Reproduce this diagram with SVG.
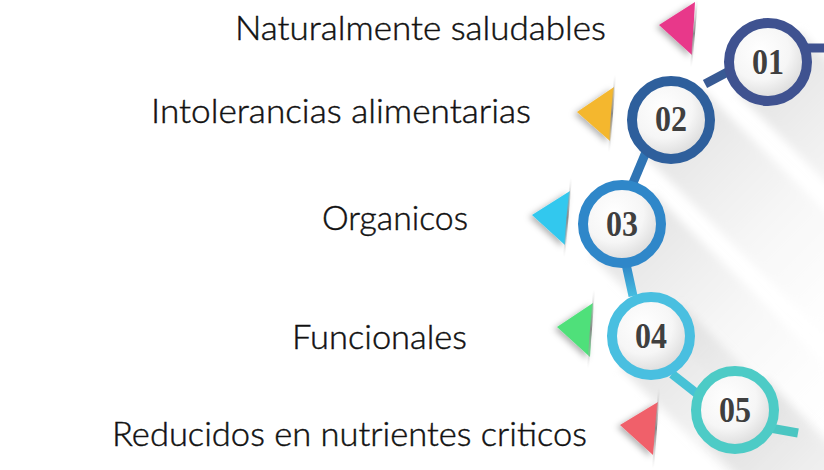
<svg xmlns="http://www.w3.org/2000/svg" width="824" height="470" viewBox="0 0 824 470">
<defs>
  <radialGradient id="inner" cx="0.4" cy="0.36" r="0.68">
    <stop offset="0" stop-color="#ffffff"/>
    <stop offset="0.55" stop-color="#f6f6f6"/>
    <stop offset="1" stop-color="#d6d6d6"/>
  </radialGradient>
  <linearGradient id="shadow" x1="0" y1="0" x2="1" y2="1">
    <stop offset="0" stop-color="#d4d4d4" stop-opacity="0.85"/>
    <stop offset="1" stop-color="#ffffff" stop-opacity="0"/>
  </linearGradient>
  <linearGradient id="fold" x1="0" y1="0" x2="0" y2="1">
    <stop offset="0" stop-color="#bbbbbb" stop-opacity="0"/>
    <stop offset="0.5" stop-color="#888888"/>
    <stop offset="1" stop-color="#bbbbbb" stop-opacity="0"/>
  </linearGradient>
  <linearGradient id="g34" x1="0" y1="0" x2="0" y2="1">
    <stop offset="0" stop-color="#2f85c6"/>
    <stop offset="1" stop-color="#47bde0"/>
  </linearGradient>
  <filter id="tshadow" x="-50%" y="-50%" width="200%" height="200%">
    <feDropShadow dx="-3" dy="2" stdDeviation="3" flood-color="#000" flood-opacity="0.3"/>
  </filter>
  <filter id="blur" x="-20%" y="-20%" width="140%" height="140%">
    <feGaussianBlur stdDeviation="4"/>
  </filter>
</defs>
<style>
  .lbl { font-family: "Lato", "Open Sans", "Liberation Sans", sans-serif; font-weight: 300; font-size: 33px; fill: #111111; stroke: #111111; stroke-width: 0.45; text-anchor: end; }
  .num { font-family: "Liberation Serif", "Times New Roman", serif; font-weight: bold; font-size: 36px; fill: #3f3f3f; text-anchor: middle; }
  .ring { stroke-width: 10; fill: url(#inner); }
  .con { fill: none; stroke-width: 9; stroke-linecap: butt; }
  .fold { stroke: url(#fold); stroke-width: 2; fill: none; }
  .tri { filter: url(#tshadow); }
  .sh { fill: url(#shadow); filter: url(#blur); }
</style>
<rect width="824" height="470" fill="#ffffff"/>

<!-- long shadows -->
<g id="shadows">
  <polygon class="sh" points="799,31 737,93 937,293 999,231"/>
  <polygon class="sh" points="702,89 640,151 840,351 902,289"/>
  <polygon class="sh" points="653,193 591,255 791,455 853,393"/>
  <polygon class="sh" points="682,305 620,367 820,567 882,505"/>
  <polygon class="sh" points="766,379 704,441 904,641 966,579"/>
</g>

<g id="connectors">
  <line class="con" x1="806" y1="48" x2="824" y2="48" stroke="#3f5290"/>
  <line class="con" x1="705" y1="84" x2="735" y2="68" stroke="#385a94"/>
  <line class="con" x1="646" y1="152" x2="633" y2="183" stroke="#2f74b4"/>
  <line class="con" x1="626" y1="264" x2="633" y2="296" stroke="url(#g34)"/>
  <line class="con" x1="672" y1="374" x2="700" y2="396" stroke="#47c2d6"/>
  <line class="con" x1="770" y1="428" x2="798" y2="433" stroke="#4bc6c2"/>
</g>

<g id="node1">
  <circle class="ring" cx="768" cy="62" r="39" stroke="#3f5290"/>
  <text class="num" x="768" y="74" textLength="32" lengthAdjust="spacingAndGlyphs">01</text>
  <polygon class="tri" points="659,25 695,2 692,55" fill="#e8388a"/>
  <line class="fold" x1="697" y1="0" x2="691" y2="67"/>
  <text class="lbl" x="606" y="40" textLength="371" lengthAdjust="spacingAndGlyphs">Naturalmente saludables</text>
</g>

<g id="node2">
  <circle class="ring" cx="671" cy="120" r="39" stroke="#2e5f9c"/>
  <text class="num" x="671" y="131" textLength="32" lengthAdjust="spacingAndGlyphs">02</text>
  <polygon class="tri" points="577,112 614,87 610,141" fill="#f4b72f"/>
  <line class="fold" x1="615" y1="75" x2="609" y2="152"/>
  <text class="lbl" x="531" y="123" textLength="380" lengthAdjust="spacingAndGlyphs">Intolerancias alimentarias</text>
</g>

<g id="node3">
  <circle class="ring" cx="622" cy="224" r="39" stroke="#2f87c9"/>
  <text class="num" x="622" y="236" textLength="32" lengthAdjust="spacingAndGlyphs">03</text>
  <polygon class="tri" points="532,215 570,191 565,245" fill="#31c8ee"/>
  <line class="fold" x1="571" y1="178" x2="564" y2="257"/>
  <text class="lbl" x="468" y="230" textLength="146" lengthAdjust="spacingAndGlyphs">Organicos</text>
</g>

<g id="node4">
  <circle class="ring" cx="651" cy="336" r="39" stroke="#49bfe0"/>
  <text class="num" x="651" y="348" textLength="32" lengthAdjust="spacingAndGlyphs">04</text>
  <polygon class="tri" points="557,327 593,303 590,357" fill="#4fe07a"/>
  <line class="fold" x1="594" y1="290" x2="588" y2="368"/>
  <text class="lbl" x="467" y="349" textLength="175" lengthAdjust="spacingAndGlyphs">Funcionales</text>
</g>

<g id="node5">
  <circle class="ring" cx="735" cy="410" r="39" stroke="#4dcbc6"/>
  <text class="num" x="735" y="422" textLength="32" lengthAdjust="spacingAndGlyphs">05</text>
  <polygon class="tri" points="620,425 658,402 653,455" fill="#f0606a"/>
  <line class="fold" x1="659" y1="388" x2="653" y2="468"/>
  <text class="lbl" x="587" y="446" textLength="475" lengthAdjust="spacingAndGlyphs">Reducidos en nutrientes criticos</text>
</g>
</svg>
